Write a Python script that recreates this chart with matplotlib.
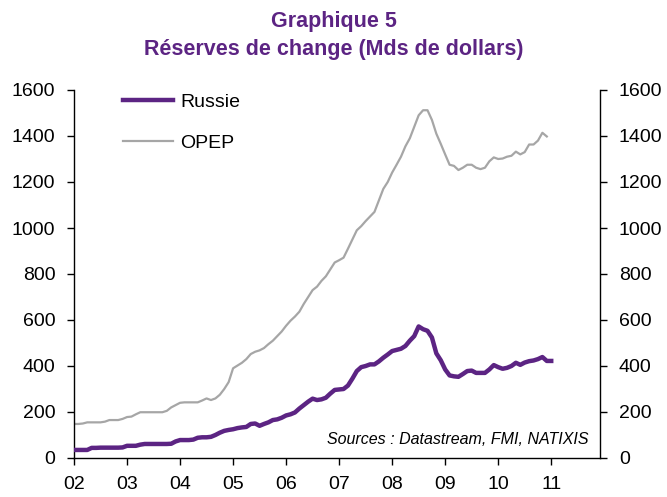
import numpy as np
import matplotlib
matplotlib.use("Agg")
import matplotlib.pyplot as plt

plt.rcParams['font.family'] = ['Liberation Sans', 'DejaVu Sans']

# Monthly data, Jan 2002 onwards
russie = [35, 35, 35, 35, 44, 44, 45, 45, 45, 45, 45, 46,
          53, 53, 53, 58, 61, 61, 61, 61, 61, 61, 62, 72,
          78, 78, 78, 80, 88, 90, 90, 92, 100, 110, 118, 122,
          125, 130, 133, 135, 148, 150, 140, 148, 155, 165, 168, 175,
          185, 190, 198, 215, 230, 245, 258, 252, 255, 262, 280, 296,
          298, 300, 315, 345, 378, 395, 400, 407, 407, 420, 436, 450,
          465, 470, 475, 487, 510, 530, 572, 560, 553, 524, 455, 425,
          385, 359, 355, 353, 365, 378, 380, 370, 370, 370, 385, 404,
          395, 388, 392, 400, 414, 405, 415, 421, 424, 430, 439, 422,
          422]
opep = [148, 148, 150, 155, 155, 155, 155, 158, 165, 165, 165, 170,
        178, 180, 190, 199, 199, 199, 199, 199, 199, 205, 220, 230,
        240, 242, 242, 242, 242, 250, 259, 252, 259, 275, 300, 330,
        390, 402, 414, 430, 452, 462, 468, 478, 495, 510, 530, 550,
        575, 597, 615, 636, 670, 700, 730, 745, 770, 790, 820, 850,
        860, 871, 910, 950, 990, 1008, 1030, 1050, 1070, 1120, 1170, 1200,
        1241, 1275, 1310, 1355, 1390, 1440, 1490, 1512, 1512, 1470, 1410, 1366,
        1320, 1275, 1270, 1252, 1262, 1275, 1275, 1262, 1256, 1262, 1290, 1307,
        1300, 1302, 1310, 1314, 1332, 1320, 1330, 1363, 1363, 1380, 1414, 1398]
year_labels = ['02', '03', '04', '05', '06', '07', '08', '09', '10', '11']
yticks = [0, 200, 400, 600, 800, 1000, 1200, 1400, 1600]

t_r = 2002 + np.arange(len(russie)) / 12.0
t_o = 2002 + np.arange(len(opep)) / 12.0

purple = '#5C2483'
grey = '#A6A6A6'

fig = plt.figure(figsize=(6.67, 4.97), dpi=100)
ax = fig.add_axes([74/667, 1-458/497, (600-74)/667, (458-90)/497])

ax.plot(t_o, opep, color=grey, lw=1.6, label='OPEP', zorder=2)
ax.plot(t_r, russie, color=purple, lw=3.2, label='Russie', zorder=3)

ax.set_xlim(2002, 2011.92)
ax.set_ylim(0, 1600)
ax.set_yticks(yticks)
ax.set_yticklabels([str(v) for v in yticks])
ax.set_xticks(2002 + np.arange(len(year_labels)))
ax.set_xticklabels(year_labels)

ax.spines['top'].set_visible(False)
for s in ['left', 'bottom', 'right']:
    ax.spines[s].set_linewidth(1.0)
    ax.spines[s].set_color('black')

ax.tick_params(axis='y', which='both', direction='out', length=5, width=1,
               labelsize=14, left=True, right=True, labelleft=True, labelright=True, pad=8.5)
ax.tick_params(axis='x', direction='out', length=5, width=1, labelsize=14, pad=8)

h, l = ax.get_legend_handles_labels()
leg = ax.legend([h[1], h[0]], [l[1], l[0]], loc='upper left', bbox_to_anchor=(0.093, 0.99),
                frameon=False, fontsize=14, handlelength=2.6, handletextpad=0.36,
                labelspacing=1.2, borderaxespad=0, borderpad=0)

ax.text(0.978, 0.03, 'Sources : Datastream, FMI, NATIXIS', transform=ax.transAxes,
        ha='right', va='bottom', fontsize=11.5, style='italic', color='black')

fig.text(0.5, 1-21/497, 'Graphique 5', ha='center', va='center', fontsize=15.5,
         fontweight='bold', color=purple)
fig.text(0.5, 1-50/497, 'Réserves de change (Mds de dollars)', ha='center', va='center',
         fontsize=15.5, fontweight='bold', color=purple)

fig.savefig('out.png', dpi=100)
